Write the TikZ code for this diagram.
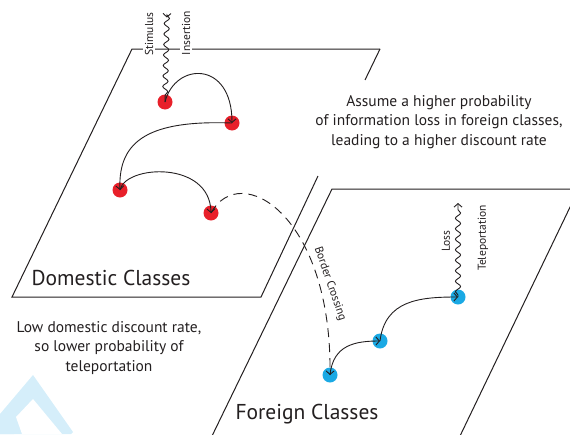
\documentclass[tikz,border=0pt]{standalone}
\usepackage{fontspec}
\setmainfont{PT Sans}
\usetikzlibrary{arrows.meta,decorations.pathmorphing}
\definecolor{dred}{HTML}{E8202A}
\definecolor{fblue}{HTML}{1AA9E4}
\definecolor{wmark}{HTML}{D5EEFA}
\definecolor{ink}{HTML}{231F20}
\begin{document}
\begin{tikzpicture}[x=1pt,y=-1pt, line width=0.9pt, draw=ink, text=ink,
  >={Straight Barb[length=3.5pt,width=8pt]},
  dot/.style={circle, minimum size=15pt, inner sep=0pt},
  reddot/.style={dot, fill=dred},
  bluedot/.style={dot, fill=fblue},
  plane/.style={line width=1pt},
  wave/.style={decorate, decoration={snake, amplitude=2.6pt, segment length=10.5pt, pre length=2pt, post length=4pt}},
  note/.style={align=center, font=\fontsize{15.5}{19.5}\selectfont},
  big/.style={font=\fontsize{21.5}{24}\selectfont},
  small/.style={font=\fontsize{11.5}{13}\selectfont, inner sep=1.5pt},
  cover/.style={fill=white}
]
\useasboundingbox (0,0) rectangle (570,434);
\clip (0,0) rectangle (570,434);
% watermark
\fill[wmark] (0,414) -- (33,375) -- (73,432) -- (71,434) -- (0,434) -- cycle;
\fill[white] (16,417) -- (33,399) -- (62,434) -- (22,434) -- cycle;
\fill[wmark] (0,428) -- (6,422) -- (14,434) -- (0,434) -- cycle;
% planes
\draw[plane] (380,49) -- (365,80);
\draw[plane] (318,176) -- (261,297) -- (12,297) -- (132,49) -- (380,49);
\draw[plane] (572,189) -- (332,189) -- (212,436);
\draw[plane] (572,203) -- (460,436);
% labels
\node[small, cover, rotate=90] (stim) at (149,34) {Stimulus};
\node[small, cover, rotate=90] (ins) at (186,33) {Insertion};
\node[small, rotate=90] (loss) at (446,241) {Loss};
\node[small, rotate=90] (tele) at (483,238) {Teleportation};
\node[small, rotate=-71] (border) at (330,284) {Border Crossing};
\node[big] (dom) at (111,278) {Domestic Classes};
\node[big] (for) at (307,414) {Foreign Classes};
\node[note] (lowtxt) at (109,348) {Low domestic discount rate,\\so lower probability of\\teleportation};
\node[note] (asstxt) at (439,122) {Assume a higher probability\\of information loss in foreign classes,\\leading to a higher discount rate};
% dots
\node[reddot] (r1) at (165,102) {};
\node[reddot] (r2) at (232,123) {};
\node[reddot] (r3) at (120,190) {};
\node[reddot] (r4) at (211,213) {};
\node[bluedot] (b1) at (330,375) {};
\node[bluedot] (b2) at (380,341) {};
\node[bluedot] (b3) at (458,297) {};
\coordinate (stimtop) at (167,13);
\coordinate (losstop) at (458,203);
% connectors
\draw[wave, {Straight Barb[length=3.5pt,width=8pt,reversed]}-] (stimtop) -- (r1.center);
\draw[wave, ->] (b3.center) -- (losstop);
\draw[->] (r1.center) .. controls (175,62) and (232,60) .. (r2.center);
\draw[->] (r2.center) .. controls (150,120) and (118,140) .. (r3.center);
\draw[->] (r3.center) .. controls (125,165) and (210,160) .. (r4.center);
\draw[->, dash pattern=on 9pt off 6pt] (r4.center) .. controls (240,160) and (332,215) .. (b1.center);
\draw[->] (b1.center) .. controls (333,345) and (355,341) .. (b2.center);
\draw[->] (b2.center) .. controls (385,300) and (420,297) .. (b3.center);
\end{tikzpicture}
\end{document}
